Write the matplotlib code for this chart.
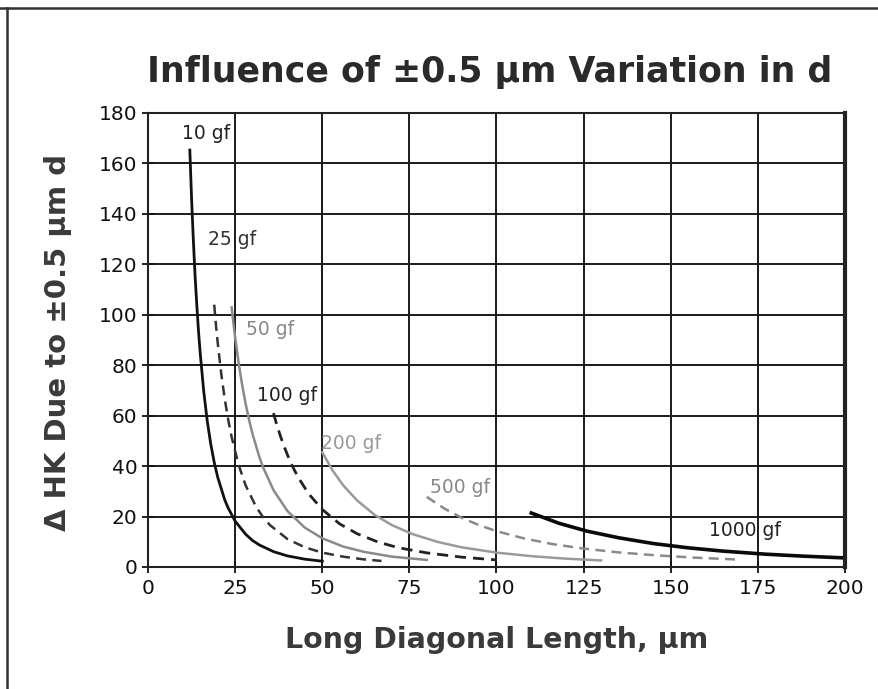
import matplotlib.pyplot as plt
from matplotlib.lines import Line2D

# Knoop hardness spread for a +/-0.5 um error in the long diagonal, per test load
d_10 = [12, 12.5, 13, 13.5, 14, 14.5, 15, 16, 17, 18, 19, 20, 22, 23, 25, 28, 30, 32, 36, 40, 45, 50]
hk_10 = [165.3, 146.2, 129.9, 115.7, 103.9, 93.3, 84.5, 69.5, 57.9, 48.8, 41.5, 35.6, 26.7, 23.4,
         18.2, 13.0, 10.5, 8.7, 6.1, 4.4, 3.1, 2.3]

d_25 = [19, 19.5, 20, 21, 22, 23, 24, 26, 28, 31, 33, 35, 40, 45, 50, 56, 62, 67]
hk_25 = [104.0, 95.9, 88.9, 76.8, 66.8, 58.5, 51.5, 40.5, 32.4, 23.9, 19.8, 16.6, 11.1, 7.8, 5.7,
         4.1, 3.0, 2.4]

d_50 = [24, 24.5, 25, 26, 27, 28, 29, 30, 32, 33, 36, 40, 45, 50, 56, 62, 70, 80]
hk_50 = [102.9, 96.8, 91.1, 81.0, 72.3, 64.8, 58.3, 52.7, 43.4, 39.6, 30.5, 22.2, 15.6, 11.4, 8.1,
         6.0, 4.1, 2.8]

d_100 = [36, 37, 38, 39, 40, 41.5, 43, 46, 50, 55, 60, 66, 72, 80, 90, 100]
hk_100 = [61.0, 56.2, 51.9, 48.0, 44.5, 39.8, 35.8, 29.2, 22.8, 17.1, 13.2, 9.9, 7.6, 5.6, 3.9, 2.8]

d_200 = [50, 53, 56, 60, 65, 70, 76, 83, 90, 100, 110, 120, 130]
hk_200 = [45.5, 38.2, 32.4, 26.4, 20.7, 16.6, 13.0, 10.0, 7.8, 5.7, 4.3, 3.3, 2.6]

d_500 = [80, 85, 90, 95, 100, 108, 116, 125, 135, 145, 157, 170]
hk_500 = [27.8, 23.2, 19.5, 16.6, 14.2, 11.3, 9.1, 7.3, 5.8, 4.7, 3.7, 2.9]

d_1000 = [110, 118, 126, 135, 145, 155, 165, 177, 188, 200]
hk_1000 = [21.4, 17.3, 14.2, 11.6, 9.3, 7.6, 6.3, 5.1, 4.3, 3.6]

curve_labels = ['10 gf', '25 gf', '50 gf', '100 gf', '200 gf', '500 gf', '1000 gf']
label_x = [16.6, 24.1, 35.0, 40.0, 58.2, 89.5, 171.3]
label_y = [171.7, 129.7, 94.0, 67.8, 48.8, 31.7, 14.3]

x_ticks = [0, 25, 50, 75, 100, 125, 150, 175, 200]
y_ticks = [0, 20, 40, 60, 80, 100, 120, 140, 160, 180]

plt.rcParams['font.family'] = ['Verdana', 'DejaVu Sans']

fig = plt.figure(figsize=(8.79, 6.89), dpi=100)
ax = fig.add_axes([148 / 879, 1 - 567 / 689, 697 / 879, 454 / 689])

dash = (0, (4, 2.5))
ax.plot(d_10, hk_10, color='#111111', lw=2.0)
ax.plot(d_25, hk_25, color='#333333', lw=1.8, linestyle=dash)
ax.plot(d_50, hk_50, color='#8a8a8a', lw=1.8)
ax.plot(d_100, hk_100, color='#222222', lw=2.0, linestyle=dash)
ax.plot(d_200, hk_200, color='#9a9a9a', lw=1.8)
ax.plot(d_500, hk_500, color='#8a8a8a', lw=1.8, linestyle=dash)
ax.plot(d_1000, hk_1000, color='#0a0a0a', lw=2.6)

label_colors = ['#222222', '#333333', '#888888', '#222222', '#999999', '#888888', '#222222']
for t, x, y, c in zip(curve_labels, label_x, label_y, label_colors):
    ax.text(x, y, t, color=c, fontsize=13.5, ha='center', va='center')

ax.set_xlim(0, 200)
ax.set_ylim(0, 180)
ax.set_xticks(x_ticks)
ax.set_yticks(y_ticks)
ax.grid(True, color='#1a1a1a', lw=1.4)
ax.set_axisbelow(True)
ax.tick_params(direction='inout', length=9, width=1.3, labelsize=14.5, colors='#111111')
ax.tick_params(axis='x', pad=4)
ax.tick_params(axis='y', pad=3)
for side in ['left', 'bottom', 'top']:
    ax.spines[side].set_linewidth(1.5)
    ax.spines[side].set_color('#222222')
ax.spines['right'].set_linewidth(3)
ax.spines['right'].set_color('#222222')

fig.text(490 / 879, 1 - 72 / 689, 'Influence of \u00b10.5 \u00b5m Variation in d',
         fontsize=25, fontweight='bold', color='#2a2a2a', ha='center', va='center')
fig.text(497 / 879, 1 - 640 / 689, 'Long Diagonal Length, \u00b5m',
         fontsize=20.5, fontweight='bold', color='#3a3a3a', ha='center', va='center')
fig.text(58 / 879, 1 - 342 / 689, '\u0394 HK Due to \u00b10.5 \u00b5m d',
         fontsize=21, fontweight='bold', color='#3a3a3a', ha='center', va='center',
         rotation=90)

# frame lines along the top and left of the sheet
fig.add_artist(Line2D([0, 1], [1 - 8 / 689, 1 - 8 / 689], color='#333333', lw=1.8))
fig.add_artist(Line2D([7 / 879, 7 / 879], [0, 1 - 8 / 689], color='#333333', lw=1.8))

fig.savefig('out.png', dpi=100)
